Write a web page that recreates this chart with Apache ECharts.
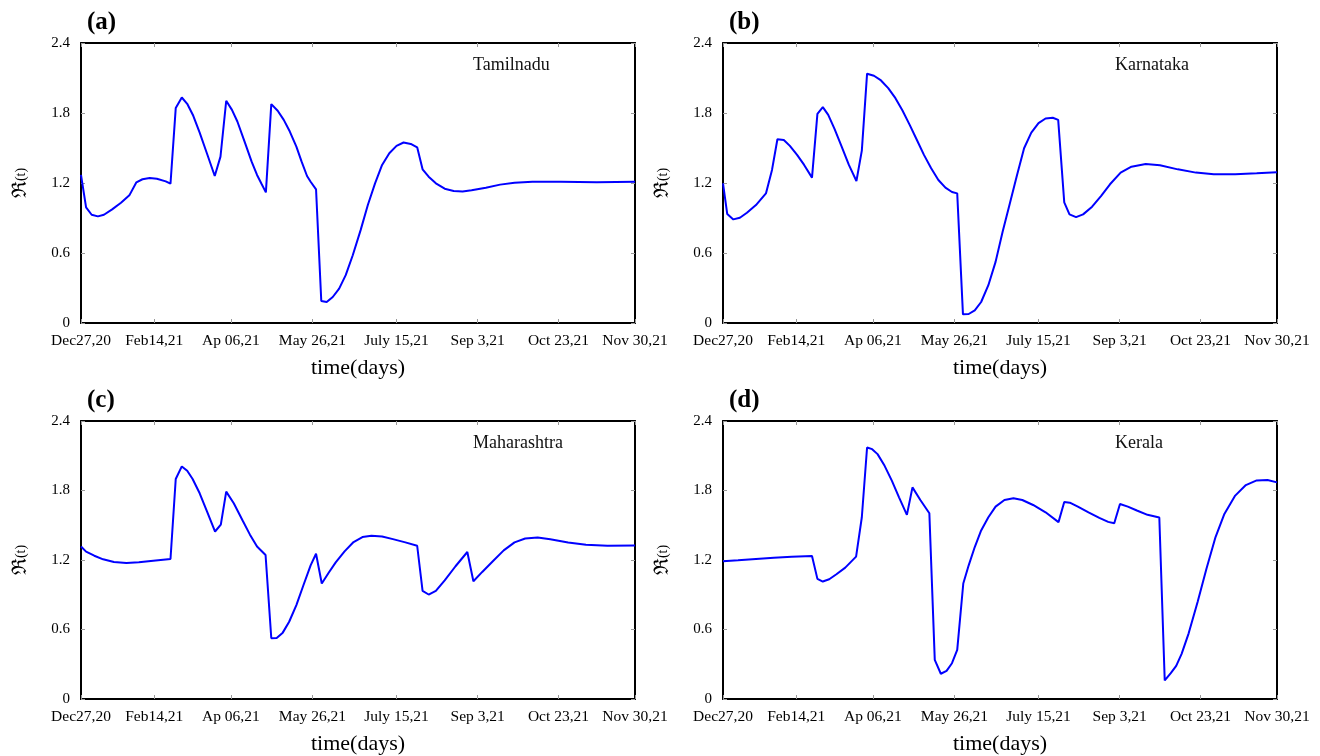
<!DOCTYPE html>
<html>
<head>
<meta charset="utf-8">
<script src="https://cdn.jsdelivr.net/npm/echarts@6/dist/echarts.min.js"></script>
<style>
  html, body { margin: 0; padding: 0; background: #fff; }
  #chart { width: 1320px; height: 756px; }
</style>
</head>
<body>
<div id="chart"></div>
<script>
// R(t) for four Indian states, Dec 2020 - Nov 2021 (x = days since Dec 27, 2020)
var tickDays = [0, 44.7, 91.4, 141.2, 192.5, 242, 291.3, 338];
var tickLabels = ['Dec27,20', 'Feb14,21', 'Ap 06,21', 'May 26,21', 'July 15,21', 'Sep 3,21', 'Oct 23,21', 'Nov 30,21'];
var panelLetters = ['(a)', '(b)', '(c)', '(d)'];
var stateNames = ['Tamilnadu', 'Karnataka', 'Maharashtra', 'Kerala'];

var tamilnadu = [
  [0, 1.269], [3.1, 0.991], [6.5, 0.928], [10.3, 0.914], [14.0, 0.928], [19.0, 0.974], [24.4, 1.031],
  [29.5, 1.094], [33.8, 1.206], [37.5, 1.232], [41.9, 1.243], [46.3, 1.237], [51.7, 1.214], [54.6, 1.194],
  [57.8, 1.842], [61.5, 1.933], [64.8, 1.879], [68.5, 1.776], [72.4, 1.632], [76.8, 1.455], [81.6, 1.260],
  [85.1, 1.426], [88.6, 1.905], [92.1, 1.827], [95.4, 1.727], [99.8, 1.555], [104.1, 1.383], [107.4, 1.269],
  [110.2, 1.191], [112.8, 1.120], [116.1, 1.876], [120.0, 1.819], [123.7, 1.741], [127.4, 1.641], [131.4, 1.512],
  [134.6, 1.383], [137.9, 1.260], [140.1, 1.211], [143.4, 1.146], [146.6, 0.189], [149.9, 0.180], [153.6, 0.223],
  [157.5, 0.295], [161.5, 0.410], [165.8, 0.581], [170.6, 0.796], [175.0, 1.011], [179.4, 1.197], [183.7, 1.355],
  [188.1, 1.455], [192.5, 1.518], [196.8, 1.547], [201.2, 1.535], [205.1, 1.506], [208.4, 1.317], [212.1, 1.254],
  [216.5, 1.197], [221.9, 1.151], [227.4, 1.131], [232.8, 1.128], [238.3, 1.137], [247.0, 1.160], [255.7, 1.186],
  [264.5, 1.203], [275.4, 1.211], [292.8, 1.211], [314.6, 1.206], [338, 1.211]
];

var karnataka = [
  [0, 1.197], [2.6, 0.934], [6.3, 0.888], [10.3, 0.902], [14.6, 0.945], [20.1, 1.011], [26.2, 1.111],
  [29.9, 1.312], [33.2, 1.575], [37.1, 1.569], [40.8, 1.518], [45.2, 1.441], [49.5, 1.355], [54.3, 1.246],
  [57.6, 1.793], [60.9, 1.850], [64.2, 1.784], [68.1, 1.661], [72.4, 1.512], [76.8, 1.355], [81.4, 1.217],
  [84.7, 1.478], [87.9, 2.137], [92.1, 2.119], [96.4, 2.079], [100.8, 2.013], [105.2, 1.927], [109.5, 1.821],
  [113.9, 1.698], [118.3, 1.569], [122.6, 1.441], [127.0, 1.326], [131.4, 1.226], [135.7, 1.160], [139.7, 1.123],
  [142.9, 1.111], [146.4, 0.074], [149.9, 0.077], [153.6, 0.109], [157.5, 0.180], [161.9, 0.324], [166.3, 0.524],
  [170.6, 0.782], [175.0, 1.025], [179.4, 1.269], [183.7, 1.498], [188.1, 1.632], [192.5, 1.713], [196.8, 1.753],
  [201.2, 1.759], [204.5, 1.741], [208.2, 1.034], [211.4, 0.931], [215.4, 0.908], [219.7, 0.931], [225.2, 0.997],
  [230.6, 1.088], [236.1, 1.189], [242.6, 1.289], [249.2, 1.340], [257.9, 1.363], [266.6, 1.352], [277.5, 1.317],
  [288.5, 1.289], [299.4, 1.274], [312.5, 1.274], [325.6, 1.283], [338, 1.292]
];

var maharashtra = [
  [0, 1.317], [3.1, 1.272], [8.1, 1.237], [13.5, 1.206], [20.1, 1.183], [27.7, 1.174], [35.3, 1.180],
  [44.1, 1.194], [54.6, 1.209], [57.8, 1.899], [61.5, 2.008], [64.8, 1.970], [68.1, 1.899], [72.4, 1.776],
  [76.8, 1.621], [81.8, 1.446], [85.3, 1.506], [88.6, 1.790], [93.2, 1.690], [98.6, 1.541], [103.0, 1.421],
  [107.4, 1.317], [112.6, 1.243], [116.1, 0.524], [119.4, 0.527], [123.1, 0.573], [127.0, 0.667], [131.4, 0.811],
  [135.7, 0.982], [140.1, 1.154], [143.4, 1.254], [146.9, 0.997], [151.0, 1.088], [155.4, 1.180], [160.8, 1.274],
  [166.3, 1.355], [171.7, 1.398], [177.2, 1.409], [183.7, 1.403], [190.3, 1.380], [197.9, 1.352], [205.1, 1.323],
  [208.4, 0.934], [212.1, 0.902], [216.5, 0.934], [221.9, 1.025], [228.5, 1.146], [235.7, 1.269], [239.4, 1.017],
  [244.8, 1.097], [251.4, 1.191], [257.9, 1.283], [264.5, 1.352], [271.0, 1.386], [278.6, 1.395], [286.3, 1.380],
  [297.2, 1.352], [308.1, 1.332], [321.2, 1.323], [338, 1.326]
];

var kerala = [
  [0, 1.189], [9.2, 1.197], [20.1, 1.209], [31.0, 1.220], [41.9, 1.229], [54.3, 1.234], [57.6, 1.037],
  [60.9, 1.014], [64.8, 1.034], [69.2, 1.077], [74.6, 1.134], [81.2, 1.229], [84.7, 1.569], [87.9, 2.171],
  [91.0, 2.157], [94.3, 2.114], [98.6, 2.013], [103.0, 1.885], [107.4, 1.741], [112.2, 1.590], [115.6, 1.827],
  [120.4, 1.718], [125.9, 1.604], [129.2, 0.338], [132.9, 0.218], [136.4, 0.243], [139.7, 0.309], [142.9, 0.424],
  [146.6, 0.997], [149.9, 1.154], [153.6, 1.312], [157.5, 1.455], [161.9, 1.569], [166.3, 1.661], [171.7, 1.718],
  [177.2, 1.733], [182.6, 1.718], [189.2, 1.675], [196.8, 1.612], [204.7, 1.527], [208.2, 1.701], [211.6, 1.695],
  [216.5, 1.661], [223.0, 1.612], [229.6, 1.564], [235.0, 1.529], [238.7, 1.518], [242.2, 1.684], [247.0, 1.661],
  [252.5, 1.627], [259.0, 1.590], [266.2, 1.567], [269.5, 0.160], [273.2, 0.223], [276.5, 0.286], [279.8, 0.390],
  [284.1, 0.567], [289.6, 0.839], [295.0, 1.126], [300.5, 1.398], [305.9, 1.598], [312.5, 1.756], [319.0, 1.847],
  [325.6, 1.887], [332.2, 1.890], [338, 1.870]
];

var panels = [tamilnadu, karnataka, maharashtra, kerala];

var serif = "'Liberation Serif', 'Times New Roman', serif";
var frame = { show: true, onZero: false, lineStyle: { color: '#000', width: 2 } };
var tick = { show: true, inside: true, length: 4, lineStyle: { color: '#999', width: 1 } };
var boxes = [
  { left: 81, top: 43 }, { left: 723, top: 43 },
  { left: 81, top: 421 }, { left: 723, top: 421 }
];

var grids = [], xAxes = [], yAxes = [], series = [], graphics = [];
boxes.forEach(function (b, i) {
  grids.push({ left: b.left, top: b.top, width: 554, height: 280 });
  xAxes.push({
    type: 'value', gridIndex: i, min: 0, max: 338, position: 'bottom',
    name: 'time(days)', nameLocation: 'middle', nameGap: 34,
    nameTextStyle: { fontFamily: serif, fontSize: 22, color: '#000' },
    axisLine: frame,
    axisTick: Object.assign({ customValues: tickDays }, tick),
    axisLabel: {
      customValues: tickDays, margin: 10, color: '#000', fontFamily: serif, fontSize: 15.5,
      formatter: function (v) { return tickLabels[tickDays.indexOf(v)]; }
    },
    splitLine: { show: false }
  });
  xAxes.push({
    type: 'value', gridIndex: i, min: 0, max: 338, position: 'top',
    axisLine: frame,
    axisTick: Object.assign({ customValues: tickDays }, tick),
    axisLabel: { show: false }, splitLine: { show: false }
  });
  yAxes.push({
    type: 'value', gridIndex: i, min: 0, max: 2.4, interval: 0.6, position: 'left',
    name: '{r|ℜ}{t|(t)}', nameLocation: 'middle', nameGap: 50, nameRotate: 90,
    nameTextStyle: {
      color: '#000',
      rich: {
        r: { fontFamily: "'DejaVu Serif', serif", fontSize: 20, color: '#000' },
        t: { fontFamily: serif, fontSize: 14, color: '#000' }
      }
    },
    axisLine: frame, axisTick: tick,
    axisLabel: {
      margin: 11, color: '#000', fontFamily: serif, fontSize: 15,
      formatter: function (v) { return v === 0 ? '0' : v.toFixed(1); }
    },
    splitLine: { show: false }
  });
  yAxes.push({
    type: 'value', gridIndex: i, min: 0, max: 2.4, interval: 0.6, position: 'right',
    axisLine: frame, axisTick: tick, axisLabel: { show: false }, splitLine: { show: false }
  });
  series.push({
    type: 'line', xAxisIndex: i * 2, yAxisIndex: i * 2, data: panels[i],
    showSymbol: false, smooth: false,
    lineStyle: { color: '#0000ff', width: 2 }, itemStyle: { color: '#0000ff' }
  });
  graphics.push({
    type: 'text', left: b.left + 6, top: b.top - 33,
    style: { text: panelLetters[i], font: 'bold 25px ' + serif, fill: '#000' }
  });
  graphics.push({
    type: 'text', left: b.left + 392, top: b.top + 13,
    style: { text: stateNames[i], font: '18px ' + serif, fill: '#111' }
  });
});

var chart = echarts.init(document.getElementById('chart'));
chart.setOption({
  animation: false,
  backgroundColor: '#fff',
  grid: grids,
  xAxis: xAxes,
  yAxis: yAxes,
  series: series,
  graphic: graphics
});
</script>
</body>
</html>
